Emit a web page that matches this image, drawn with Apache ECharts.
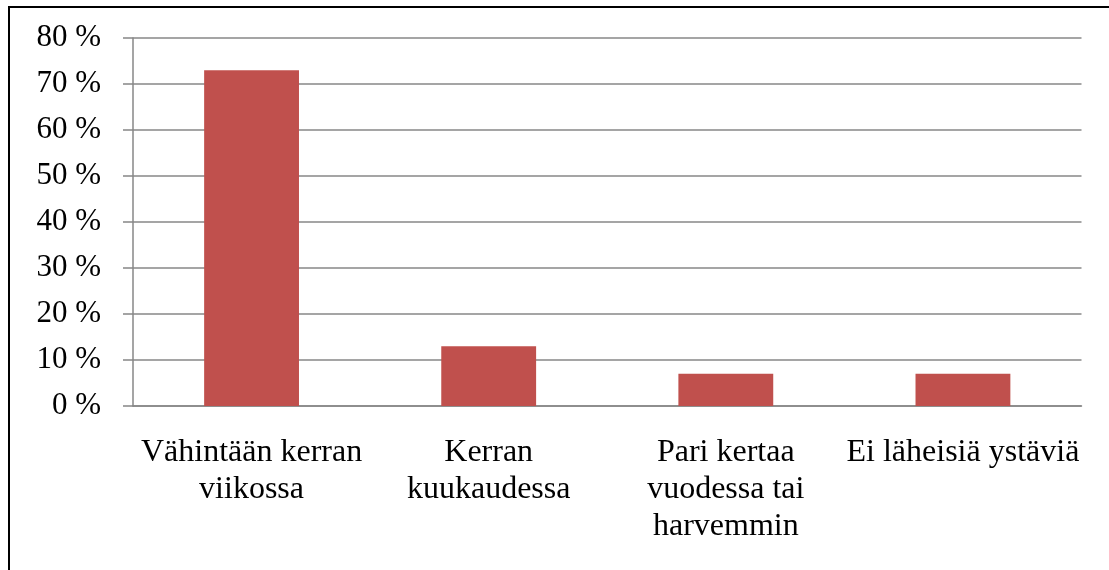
<!DOCTYPE html>
<html>
<head>
<meta charset="utf-8">
<script src="https://cdn.jsdelivr.net/npm/echarts@6/dist/echarts.min.js"></script>
<style>
  html, body { margin: 0; padding: 0; background: #fff; }
  #chart { width: 1109px; height: 570px; position: absolute; left: 0; top: 0; }
  /* frame of the original picture: only top and left edges are visible */
  .frame {
    position: absolute; left: 8px; top: 6px; width: 1200px; height: 700px;
    border-top: 2px solid #000; border-left: 2px solid #000; pointer-events: none;
  }
</style>
</head>
<body>
<div id="chart"></div>
<div class="frame"></div>
<script>
// data
const categories = [
  "Vähintään kerran\nviikossa",
  "Kerran\nkuukaudessa",
  "Pari kertaa\nvuodessa tai\nharvemmin",
  "Ei läheisiä ystäviä"
];
const values = [73, 13, 7, 7];
const yTicks = [0, 10, 20, 30, 40, 50, 60, 70, 80];

const gray = "#878787";
const font = "'Liberation Serif', 'Times New Roman', serif";

const chart = echarts.init(document.getElementById("chart"));
chart.setOption({
  animation: false,
  grid: { left: 133, right: 27.5, top: 38, bottom: 164 },
  xAxis: {
    type: "category",
    data: categories,
    axisLine: { lineStyle: { color: gray, width: 1.5 } },
    axisTick: { length: 9, lineStyle: { color: gray, width: 1.5 } },
    axisLabel: {
      color: "#000",
      fontFamily: font,
      fontSize: 32,
      lineHeight: 37,
      margin: 28,
      interval: 0
    }
  },
  yAxis: {
    type: "value",
    min: yTicks[0],
    max: yTicks[yTicks.length - 1],
    interval: 10,
    axisLine: { show: true, lineStyle: { color: gray, width: 1.5 } },
    axisTick: { show: true, length: 10, lineStyle: { color: gray, width: 1.5 } },
    splitLine: { lineStyle: { color: gray, width: 1.5 } },
    axisLabel: {
      color: "#000",
      fontFamily: font,
      fontSize: 31,
      margin: 32,
      formatter: (v) => v + " %"
    }
  },
  series: [
    {
      type: "bar",
      data: values,
      barWidth: "40%",
      itemStyle: { color: "#C0504D" }
    }
  ]
});
</script>
</body>
</html>
